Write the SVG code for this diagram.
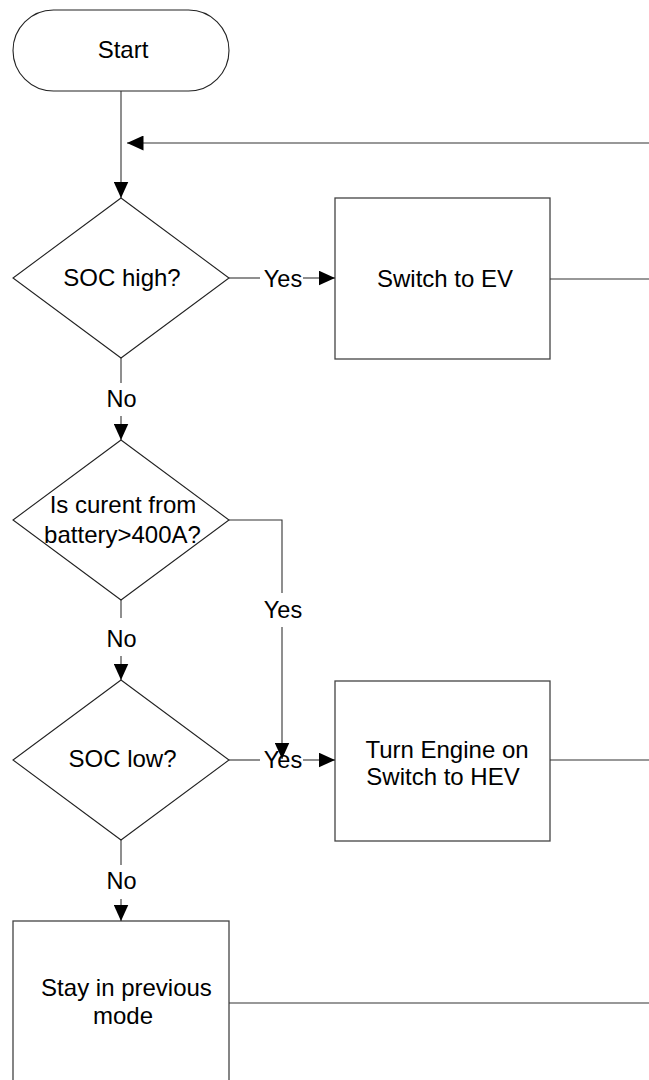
<svg xmlns="http://www.w3.org/2000/svg" width="649" height="1080" viewBox="0 0 649 1080">
<style>
.shape{fill:#fff;stroke:#222;stroke-width:1.1}
.box{fill:#fff;stroke:#444;stroke-width:1.3}
.conn{fill:none;stroke:#333;stroke-width:1.1}
.t{font-family:"Liberation Sans",Arial,sans-serif;font-size:24px;fill:#000;text-anchor:middle}
.lbl{font-family:"Liberation Sans",Arial,sans-serif;font-size:23.5px;fill:#000;text-anchor:middle}
</style>
<defs>
<marker id="arr" markerUnits="userSpaceOnUse" markerWidth="17" markerHeight="15" refX="16.5" refY="7.5" orient="auto">
<path d="M0,0 L16.5,7.5 L0,15 z" fill="#000"/>
</marker>
</defs>
<rect width="649" height="1080" fill="#fff"/>
<g id="start">
<rect class="shape" x="13" y="10" width="216" height="81" rx="40.5" ry="40.5"/>
<text class="t" x="123" y="58">Start</text>
</g>
<g id="soc-high">
<polygon class="shape" points="121,198 229,278 121,358 13,278"/>
<text class="t" x="122" y="286">SOC high?</text>
</g>
<g id="switch-ev">
<rect class="box" x="335" y="198" width="215" height="161"/>
<text class="t" x="445" y="286.5">Switch to EV</text>
</g>
<g id="current-check">
<polygon class="shape" points="121,440 229,520 121,600 13,520"/>
<text class="t" x="123" y="513">Is curent from</text>
<text class="t" x="122.5" y="542.5">battery&gt;400A?</text>
</g>
<g id="soc-low">
<polygon class="shape" points="121,680 229,760 121,840 13,760"/>
<text class="t" x="122.5" y="767">SOC low?</text>
</g>
<g id="switch-hev">
<rect class="box" x="335" y="681" width="215" height="160"/>
<text class="t" x="447" y="758">Turn Engine on</text>
<text class="t" x="443" y="785">Switch to HEV</text>
</g>
<g id="stay">
<rect class="box" x="13" y="921" width="216" height="180"/>
<text class="t" x="126.5" y="996">Stay in previous</text>
<text class="t" x="123" y="1024">mode</text>
</g>
<g id="connectors">
<line class="conn" x1="121" y1="91" x2="121" y2="198" marker-end="url(#arr)"/>
<line class="conn" x1="649" y1="143" x2="127" y2="143" marker-end="url(#arr)"/>
<line class="conn" x1="229" y1="278" x2="260" y2="278"/>
<text class="lbl" x="283" y="286.5">Yes</text>
<line class="conn" x1="303" y1="278" x2="335" y2="278" marker-end="url(#arr)"/>
<line class="conn" x1="550" y1="279" x2="649" y2="279"/>
<line class="conn" x1="121" y1="358" x2="121" y2="383"/>
<text class="lbl" x="121.5" y="406.5">No</text>
<line class="conn" x1="121" y1="416" x2="121" y2="440" marker-end="url(#arr)"/>
<polyline class="conn" points="229,520 282,520 282,593"/>
<text class="lbl" x="283" y="618">Yes</text>
<line class="conn" x1="121" y1="600" x2="121" y2="618"/>
<text class="lbl" x="121.5" y="646.5">No</text>
<line class="conn" x1="121" y1="656" x2="121" y2="680" marker-end="url(#arr)"/>
<line class="conn" x1="229" y1="760" x2="260" y2="760"/>
<text class="lbl" x="283" y="768">Yes</text>
<line class="conn" x1="303" y1="760" x2="335" y2="760" marker-end="url(#arr)"/>
<line class="conn" x1="282" y1="627" x2="282" y2="759" marker-end="url(#arr)"/>
<line class="conn" x1="550" y1="760" x2="649" y2="760"/>
<line class="conn" x1="121" y1="840" x2="121" y2="865"/>
<text class="lbl" x="121.5" y="889">No</text>
<line class="conn" x1="121" y1="899" x2="121" y2="921" marker-end="url(#arr)"/>
<line class="conn" x1="229" y1="1003" x2="649" y2="1003"/>
</g>
</svg>
